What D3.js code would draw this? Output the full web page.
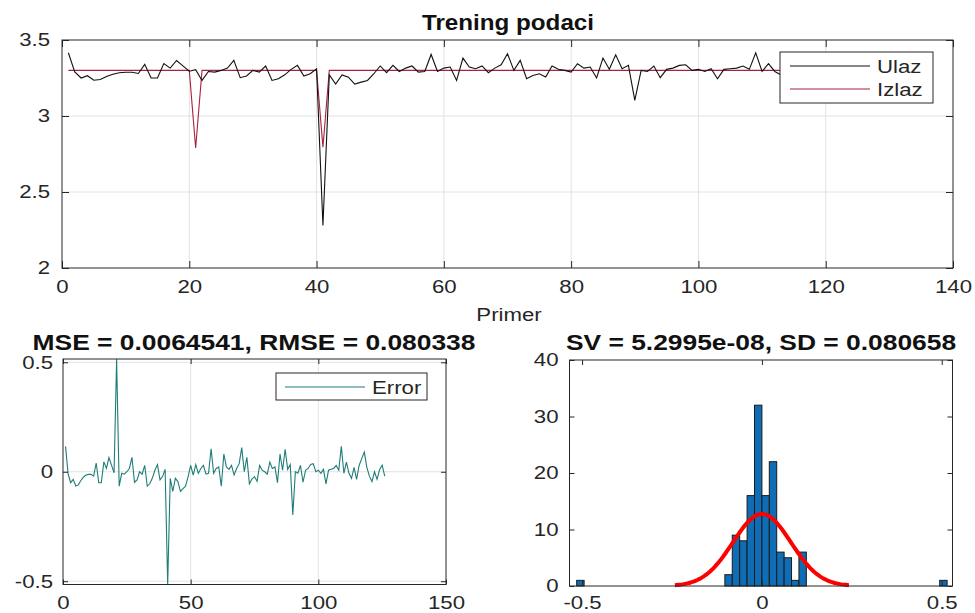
<!DOCTYPE html>
<html>
<head>
<meta charset="utf-8">
<script src="https://cdn.jsdelivr.net/npm/d3@7"></script>
<style>
  body { margin: 0; background: #fff; }
  svg { display: block; }
</style>
</head>
<body>
<svg id="chart" width="975" height="613"></svg>
<script>
// ---- Training data: input (Ulaz) and network output (Izlaz), samples 1..126
const ulaz = [
  3.416, 3.290, 3.250, 3.265, 3.235, 3.240, 3.260, 3.275, 3.285, 3.288,
  3.288, 3.280, 3.340, 3.250, 3.250, 3.345, 3.315, 3.365, 3.330, 3.295,
  3.305, 3.234, 3.293, 3.289, 3.300, 3.315, 3.366, 3.252, 3.263, 3.300,
  3.289, 3.329, 3.234, 3.245, 3.271, 3.307, 3.333, 3.263, 3.278, 3.311,
  2.280, 3.270, 3.210, 3.270, 3.255, 3.210, 3.223, 3.234, 3.278, 3.329,
  3.285, 3.333, 3.293, 3.315, 3.329, 3.289, 3.293, 3.405, 3.293, 3.315,
  3.322, 3.234, 3.381, 3.322, 3.311, 3.329, 3.285, 3.315, 3.337, 3.410,
  3.300, 3.366, 3.245, 3.267, 3.278, 3.256, 3.329, 3.307, 3.300, 3.289,
  3.344, 3.315, 3.322, 3.250, 3.381, 3.307, 3.403, 3.311, 3.333, 3.103,
  3.300, 3.293, 3.329, 3.252, 3.307, 3.315, 3.333, 3.337, 3.300, 3.307,
  3.293, 3.311, 3.245, 3.307, 3.311, 3.315, 3.329, 3.307, 3.416, 3.293,
  3.344, 3.293, 3.270, 3.320, 3.265, 3.330, 3.360, 3.390, 3.320, 3.280,
  3.255, 3.300, 3.265, 3.310, 3.330, 3.280
];
const izlaz = [
  3.300, 3.300, 3.300, 3.300, 3.300, 3.300, 3.300, 3.300, 3.300, 3.300,
  3.300, 3.300, 3.300, 3.300, 3.300, 3.300, 3.300, 3.300, 3.300, 3.300,
  2.790, 3.300, 3.300, 3.300, 3.300, 3.300, 3.300, 3.300, 3.300, 3.300,
  3.300, 3.300, 3.300, 3.300, 3.300, 3.300, 3.300, 3.300, 3.300, 3.300,
  2.795, 3.300, 3.300, 3.300, 3.300, 3.300, 3.300, 3.300, 3.300, 3.300,
  3.300, 3.300, 3.300, 3.300, 3.300, 3.300, 3.300, 3.300, 3.300, 3.300,
  3.300, 3.300, 3.300, 3.300, 3.300, 3.300, 3.300, 3.300, 3.300, 3.300,
  3.300, 3.300, 3.300, 3.300, 3.300, 3.300, 3.300, 3.300, 3.300, 3.300,
  3.300, 3.300, 3.300, 3.300, 3.300, 3.300, 3.300, 3.300, 3.300, 3.300,
  3.300, 3.300, 3.300, 3.300, 3.300, 3.300, 3.300, 3.300, 3.300, 3.300,
  3.300, 3.300, 3.300, 3.300, 3.300, 3.300, 3.300, 3.300, 3.300, 3.300,
  3.300, 3.300, 3.300, 3.300, 3.300, 3.300, 3.300, 3.300, 3.300, 3.300,
  3.300, 3.300, 3.300, 3.300, 3.300, 3.300
];
// ---- Prediction error per sample
const errorValues = [
   0.116, -0.010, -0.050, -0.035, -0.065, -0.060, -0.040, -0.025, -0.015, -0.012,
  -0.012, -0.020,  0.040, -0.050, -0.050,  0.045,  0.015,  0.065,  0.030, -0.005,
   0.515, -0.066, -0.007, -0.011,  0.000,  0.015,  0.066, -0.048, -0.037,  0.000,
  -0.011,  0.029, -0.066, -0.055, -0.029,  0.007,  0.033, -0.037, -0.022,  0.011,
  -0.515, -0.030, -0.090, -0.030, -0.045, -0.090, -0.077, -0.066, -0.022,  0.029,
  -0.015,  0.033, -0.007,  0.015,  0.029, -0.011, -0.007,  0.105, -0.007,  0.015,
   0.022, -0.066,  0.081,  0.022,  0.011,  0.029, -0.015,  0.015,  0.037,  0.110,
   0.000,  0.066, -0.055, -0.033, -0.022, -0.044,  0.029,  0.007,  0.000, -0.011,
   0.044,  0.015,  0.022, -0.050,  0.081,  0.007,  0.103,  0.011,  0.033, -0.197,
   0.000, -0.007,  0.029, -0.048,  0.007,  0.015,  0.033,  0.037,  0.000,  0.007,
  -0.007,  0.011, -0.055,  0.007,  0.011,  0.015,  0.029,  0.007,  0.116, -0.007,
   0.044, -0.007, -0.030,  0.020, -0.035,  0.030,  0.060,  0.090,  0.020, -0.020,
  -0.045,  0.000, -0.035,  0.010,  0.030, -0.020
];
// ---- Error histogram: 50 equal bins starting at histStart
const histStart = -0.515;
const histBinWidth = 0.0206;
const histCounts = [
  1, 0, 0, 0, 0, 0, 0, 0, 0, 0,
  0, 0, 0, 0, 0, 0, 0, 0, 0, 0,
  2, 9, 8, 16, 32, 16, 22, 6, 5, 1,
  6, 0, 0, 0, 0, 0, 0, 0, 0, 0,
  0, 0, 0, 0, 0, 0, 0, 0, 0, 1
];
// ---- Error statistics
const errMean = 5.2995e-08;
const errSD = 0.080658;

// ---- Tick values and text
const topXTicks = [0, 20, 40, 60, 80, 100, 120, 140];
const topYTicks = [2, 2.5, 3, 3.5];
const errXTicks = [0, 50, 100, 150];
const errYTicks = [-0.5, 0, 0.5];
const histXTicks = [-0.5, 0, 0.5];
const histYTicks = [0, 10, 20, 30, 40];
const titleTop = "Trening podaci";
const xLabelTop = "Primer";
const titleErr = "MSE = 0.0064541, RMSE = 0.080338";
const titleHist = "SV = 5.2995e-08, SD = 0.080658";
const seriesNames = ["Ulaz", "Izlaz"];
const errName = "Error";

// ---- Styling
const FONT = "'Liberation Sans', Arial, Helvetica, sans-serif";
const SX = 1.2;            // horizontal text widening
const INK = "#262626";
const GRID = "#e2e2e2";

const svg = d3.select("#chart");

function label(g, x, y, s, o = {}) {
  return g.append("text")
    .attr("transform", `translate(${x},${y}) scale(${o.sx ?? SX},1)`)
    .attr("text-anchor", o.anchor || "middle")
    .attr("font-family", o.family || FONT)
    .attr("font-size", o.size || 18)
    .attr("font-weight", o.weight || "normal")
    .attr("fill", o.fill || INK)
    .text(s);
}

// Light grid lines at interior tick positions
function grid(g, x, y, W, H, xt, yt) {
  g.append("g").selectAll("line").data(xt.filter(v => x(v) > 1 && x(v) < W - 1))
    .join("line").attr("x1", d => x(d)).attr("x2", d => x(d))
    .attr("y1", 0).attr("y2", H).attr("stroke", GRID).attr("stroke-width", 1);
  g.append("g").selectAll("line").data(yt.filter(v => y(v) > 1 && y(v) < H - 1))
    .join("line").attr("y1", d => y(d)).attr("y2", d => y(d))
    .attr("x1", 0).attr("x2", W).attr("stroke", GRID).attr("stroke-width", 1);
}

// Box with inward ticks on all four sides and tick labels on bottom/left
function axes(g, x, y, W, H, xt, yt, opt) {
  const tl = opt.tick || 6;
  const fmt = opt.fmt || (d => d);
  const bx = g.append("g").attr("transform", `translate(0,${H})`)
    .call(d3.axisBottom(x).tickValues(xt).tickSizeInner(-tl).tickSizeOuter(0)
      .tickPadding(opt.xpad).tickFormat(fmt));
  const tx = g.append("g")
    .call(d3.axisTop(x).tickValues(xt).tickSizeInner(-tl).tickSizeOuter(0).tickFormat(""));
  const ly = g.append("g")
    .call(d3.axisLeft(y).tickValues(yt).tickSizeInner(-tl).tickSizeOuter(0)
      .tickPadding(opt.ypad).tickFormat(fmt));
  const ry = g.append("g").attr("transform", `translate(${W},0)`)
    .call(d3.axisRight(y).tickValues(yt).tickSizeInner(-tl).tickSizeOuter(0).tickFormat(""));
  [bx, tx, ly, ry].forEach(a => {
    a.select(".domain").remove();
    a.selectAll(".tick line").attr("stroke", INK).attr("stroke-width", 1);
    a.selectAll(".tick text")
      .attr("font-family", FONT).attr("font-size", opt.fs || 18).attr("fill", INK)
      .attr("transform", `scale(${SX},1)`)
      .attr("x", function () { return (+d3.select(this).attr("x") || 0) / SX; });
  });
  g.append("rect").attr("x", 0).attr("y", 0).attr("width", W).attr("height", H)
    .attr("fill", "none").attr("stroke", INK).attr("stroke-width", 1);
}

const numFmt = d => (d < 0 ? "-" : "") + String(Math.abs(d));

// ================= Top panel: Trening podaci =================
{
  const L = 62, T = 40, W = 953 - 62, H = 268 - 40;
  const g = svg.append("g").attr("transform", `translate(${L},${T})`);
  const x = d3.scaleLinear().domain([0, 140]).range([0, W]);
  const y = d3.scaleLinear().domain([2, 3.5]).range([H, 0]);
  grid(g, x, y, W, H, topXTicks, topYTicks);

  g.append("defs").append("clipPath").attr("id", "clipTop")
    .append("rect").attr("width", W).attr("height", H);
  const line = d3.line().x((d, i) => x(i + 1)).y(d => y(d));
  const plot = g.append("g").attr("clip-path", "url(#clipTop)");
  plot.append("path").datum(izlaz).attr("d", line)
    .attr("fill", "none").attr("stroke", "#a8213d").attr("stroke-width", 1.1);
  plot.append("path").datum(ulaz).attr("d", line)
    .attr("fill", "none").attr("stroke", "#111").attr("stroke-width", 1.1);

  axes(g, x, y, W, H, topXTicks, topYTicks, { tick: 7, xpad: 12, ypad: 12, fs: 18.5, fmt: numFmt });

  // legend
  const lg = g.append("g").attr("transform", `translate(${780 - L},${52 - T})`);
  lg.append("rect").attr("width", 153).attr("height", 51)
    .attr("fill", "#fff").attr("stroke", INK).attr("stroke-width", 1);
  const cols = ["#111", "#a8213d"];
  seriesNames.forEach((n, k) => {
    const yy = 14 + k * 23;
    lg.append("line").attr("x1", 10).attr("x2", 90).attr("y1", yy).attr("y2", yy)
      .attr("stroke", cols[k]).attr("stroke-width", 1.1);
    label(lg, 97, yy + 6.5, n, { anchor: "start", size: 18.5 });
  });

  label(svg, 508, 30, titleTop, { weight: "bold", size: 22, sx: 1.1, fill: "#111" });
  label(svg, 509, 321, xLabelTop, { size: 18.5 });
}

// ================= Bottom-left panel: error over samples =================
{
  const L = 63, T = 359, W = 446 - 63, H = 584.5 - 359;
  const g = svg.append("g").attr("transform", `translate(${L},${T})`);
  const x = d3.scaleLinear().domain([0, 150]).range([0, W]);
  const y = d3.scaleLinear().domain([-0.515, 0.515]).range([H, 0]);
  grid(g, x, y, W, H, errXTicks, errYTicks);

  const line = d3.line().x((d, i) => x(i + 1)).y(d => y(d));
  g.append("path").datum(errorValues).attr("d", line)
    .attr("fill", "none").attr("stroke", "#1f7d78").attr("stroke-width", 1.1);

  axes(g, x, y, W, H, errXTicks, errYTicks, { tick: 5, xpad: 11, ypad: 10, fs: 18.5, fmt: numFmt });

  const lg = g.append("g").attr("transform", `translate(${276 - L},${373 - T})`);
  lg.append("rect").attr("width", 151).attr("height", 27)
    .attr("fill", "#fff").attr("stroke", INK).attr("stroke-width", 1);
  lg.append("line").attr("x1", 9).attr("x2", 89).attr("y1", 14).attr("y2", 14)
    .attr("stroke", "#1f7d78").attr("stroke-width", 1.1);
  label(lg, 96, 20.5, errName, { anchor: "start", size: 18.5 });

  label(svg, 254, 350, titleErr, { weight: "bold", size: 22, fill: "#111" });
}

// ================= Bottom-right panel: error histogram with normal fit =================
{
  const L = 569.5, T = 360, W = 952.5 - 569.5, H = 586 - 360;
  const g = svg.append("g").attr("transform", `translate(${L},${T})`);
  const x = d3.scaleLinear().domain([-0.535, 0.53]).range([0, W]);
  const y = d3.scaleLinear().domain([0, 40]).range([H, 0]);

  const bins = histCounts.map((c, k) => ({
    x0: histStart + k * histBinWidth, x1: histStart + (k + 1) * histBinWidth, c
  })).filter(b => b.c > 0);
  g.append("g").selectAll("rect").data(bins).join("rect")
    .attr("x", d => x(d.x0)).attr("width", d => x(d.x1) - x(d.x0))
    .attr("y", d => y(d.c)).attr("height", d => y(0) - y(d.c))
    .attr("fill", "#0f6db5").attr("stroke", "#1a1a1a").attr("stroke-width", 1);

  // fitted normal density scaled to the histogram area, drawn over mean ± 3 SD
  const n = d3.sum(histCounts);
  const area = n * histBinWidth;
  const lo = errMean - 3 * errSD, hi = errMean + 3 * errSD;
  const fit = d3.range(100).map(k => {
    const xv = lo + (hi - lo) * k / 99;
    const z = (xv - errMean) / errSD;
    return [xv, area * Math.exp(-0.5 * z * z) / (errSD * Math.sqrt(2 * Math.PI))];
  });
  g.append("path").datum(fit)
    .attr("d", d3.line().x(d => x(d[0])).y(d => y(d[1])))
    .attr("fill", "none").attr("stroke", "#f00").attr("stroke-width", 4)
    .attr("stroke-linejoin", "round");

  axes(g, x, y, W, H, histXTicks, histYTicks, { tick: 5, xpad: 10, ypad: 11, fs: 18.5, fmt: numFmt });

  label(svg, 761, 350, titleHist, { weight: "bold", size: 22, fill: "#111" });
}
</script>
</body>
</html>
